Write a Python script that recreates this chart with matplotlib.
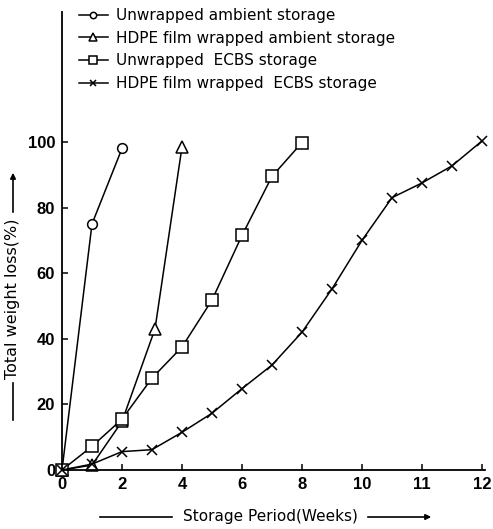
import matplotlib
matplotlib.use("Agg")
import matplotlib.pyplot as plt
import numpy as np

# weeks of storage
weeks_ua = [0, 1, 2]
loss_ua = [0, 75, 98]

weeks_ha = [0, 1, 2, 3.1, 4]
loss_ha = [0, 1.5, 14.8, 43, 98.5]

weeks_ue = [0, 1, 2, 3, 4, 5, 6, 7, 8]
loss_ue = [0, 7.2, 15.5, 28, 37.5, 51.8, 71.5, 89.5, 99.8]

weeks_he = [0, 1, 2, 3, 4, 5, 6, 7, 8, 9, 10, 10.5, 11, 11.5, 12]
loss_he = [0, 1.8, 5.6, 6.2, 11.5, 17.3, 24.8, 32, 42, 55.2, 70, 83, 87.5, 92.7, 100.3]

labels = ['Unwrapped ambient storage',
          'HDPE film wrapped ambient storage',
          'Unwrapped  ECBS storage',
          'HDPE film wrapped  ECBS storage']

xticks = [0, 2, 4, 6, 8, 10, 11, 12]
yticks = [0, 20, 40, 60, 80, 100]

# axis in the original: 2 weeks per division up to 10, then 1 week per division
def fwd(w):
    w = np.asarray(w, dtype=float)
    return np.where(w <= 10, w, 10 + 2 * (w - 10))

def inv(p):
    p = np.asarray(p, dtype=float)
    return np.where(p <= 10, p, 10 + (p - 10) / 2)

plt.rcParams['font.family'] = ['DejaVu Sans']

fig = plt.figure(figsize=(4.93, 5.29), dpi=100)
ax = fig.add_axes([62 / 493, 1 - 470 / 529, 423 / 493, 458 / 529])
ax.set_xscale('function', functions=(fwd, inv))

lw = 1.1
kw = dict(color='black', linewidth=lw, clip_on=False, markeredgewidth=1.1)
ax.plot(weeks_ua, loss_ua, marker='o', markersize=7, markerfacecolor='white', label=labels[0], **kw)
ax.plot(weeks_ha, loss_ha, marker='^', markersize=8, markerfacecolor='white', label=labels[1], **kw)
ax.plot(weeks_ue, loss_ue, marker='s', markersize=8, markerfacecolor='white', label=labels[2], **kw)
ax.plot(weeks_he, loss_he, marker='x', markersize=7, label=labels[3], **kw)

ax.set_xlim(0, 12.05)
ax.set_ylim(0, 139.6)
ax.set_xticks(xticks)
ax.set_xticklabels([str(t) for t in xticks])
ax.set_yticks(yticks)
ax.tick_params(direction='in', length=4, width=1.1, pad=5)
for lab in ax.get_xticklabels() + ax.get_yticklabels():
    lab.set_fontfamily('Liberation Sans')
    lab.set_fontsize(12)
    lab.set_fontweight('bold')

for side in ['top', 'right']:
    ax.spines[side].set_visible(False)
for side in ['left', 'bottom']:
    ax.spines[side].set_linewidth(1.3)

leg = ax.legend(loc='upper left', bbox_to_anchor=(0.025, 1.022), frameon=False,
                fontsize=11, handlelength=1.9, handletextpad=0.55, labelspacing=0.5,
                markerscale=0.65, borderaxespad=0)

# axis titles with leading line and trailing arrow
fig.text(270 / 493, 1 - 517 / 529, 'Storage Period(Weeks)', ha='center', va='center',
         fontsize=11)
fig.add_artist(plt.Line2D([100 / 493, 172 / 493], [1 - 517 / 529] * 2, color='black', lw=1.2))
ax.annotate('', xy=(434 / 493, 1 - 517 / 529), xytext=(365 / 493, 1 - 517 / 529),
            xycoords='figure fraction', textcoords='figure fraction',
            arrowprops=dict(arrowstyle='-|>', color='black', lw=1.2, mutation_scale=8))

fig.text(13 / 493, 1 - 299 / 529, 'Total weight loss(%)', ha='center', va='center',
         rotation=90, fontsize=11.5)
fig.add_artist(plt.Line2D([13 / 493] * 2, [1 - 420 / 529, 1 - 383 / 529], color='black', lw=1.2))
ax.annotate('', xy=(13 / 493, 1 - 170 / 529), xytext=(13 / 493, 1 - 215 / 529),
            xycoords='figure fraction', textcoords='figure fraction',
            arrowprops=dict(arrowstyle='-|>', color='black', lw=1.2, mutation_scale=8))

fig.savefig('out.png', dpi=100, facecolor='white')
